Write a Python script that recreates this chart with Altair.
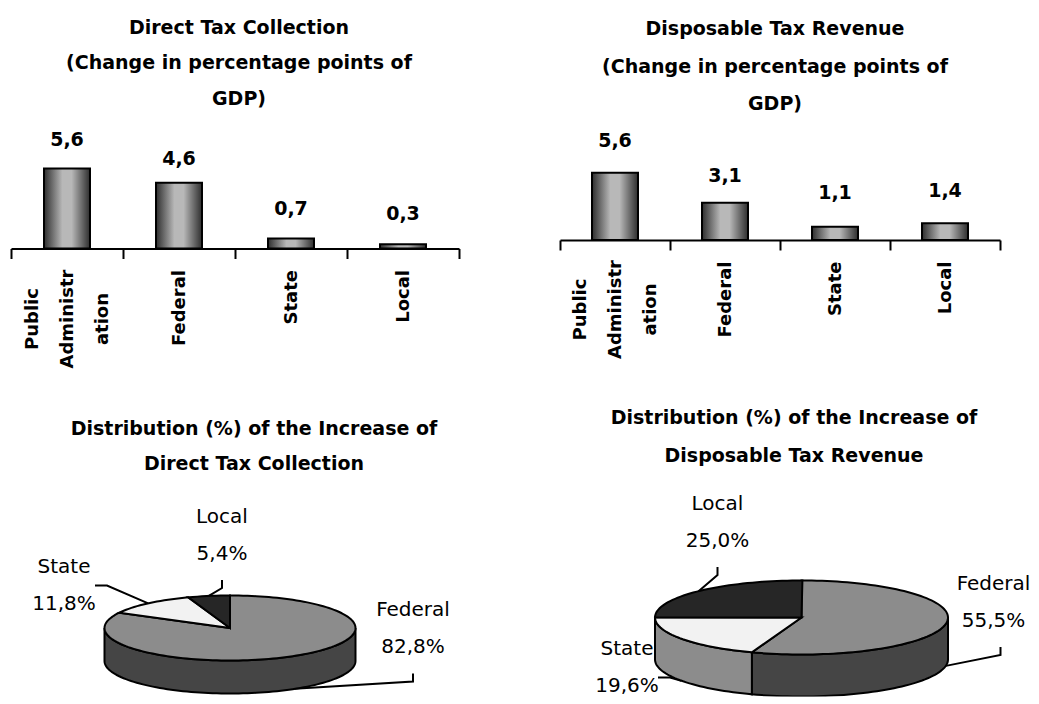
import math
import altair as alt
import pandas as pd

FONT = "DejaVu Sans"

# ---- data ----
bar_categories = ["Public Administration", "Federal", "State", "Local"]
direct_change = [5.6, 4.6, 0.7, 0.3]
disposable_change = [5.6, 3.1, 1.1, 1.4]
direct_labels = ["5,6", "4,6", "0,7", "0,3"]
disposable_labels = ["5,6", "3,1", "1,1", "1,4"]

pie_names = ["Federal", "State", "Local"]
direct_share = [82.8, 11.8, 5.4]
disposable_share = [55.5, 19.6, 25.0]
direct_share_labels = ["82,8%", "11,8%", "5,4%"]
disposable_share_labels = ["55,5%", "19,6%", "25,0%"]

top_fill = ["#8c8c8c", "#f2f2f2", "#262626"]
side_fill = ["#454545", "#8c8c8c", "#262626"]

BAR_GRADIENT = alt.Gradient(
    gradient="linear", x1=0, x2=1, y1=0, y2=0,
    stops=[
        alt.GradientStop(offset=0, color="#2e2e2e"),
        alt.GradientStop(offset=0.4, color="#b8b8b8"),
        alt.GradientStop(offset=0.6, color="#b8b8b8"),
        alt.GradientStop(offset=1, color="#2e2e2e"),
    ],
)

ROW1_TOP, ROW2_TOP = 120, 480
LEFT_SHIFT = 6
ROW2_H = 216
RIGHT_W = 471


def title(lines, dx, offset, line_height):
    return alt.TitleParams(
        text=lines, anchor="middle", frame="group", dx=dx, offset=offset,
        lineHeight=line_height, font=FONT, fontSize=19, fontWeight="bold", color="black",
    )


def bar_panel(values, labels, lifts, x_range, width, height, ymax, multi_y, ttl):
    df = pd.DataFrame({"cat": bar_categories, "v": values, "lab": labels})
    scale = alt.Scale(paddingInner=0, paddingOuter=0, range=x_range)
    x = alt.X(
        "cat:N", sort=bar_categories, title=None, scale=scale,
        axis=alt.Axis(
            labelAngle=270, labelAlign="right", labelBaseline="middle",
            labelFont=FONT, labelFontSize=18, labelFontWeight="bold", labelColor="black",
            labelPadding=11, tickBand="extent", tickSize=10, tickWidth=2, tickColor="black",
            domainWidth=2, domainColor="black", grid=False, labelOverlap=False,
            labelExpr="datum.label == 'Public Administration' ? '' : datum.label",
        ),
    )
    y = alt.Y("v:Q", axis=None, scale=alt.Scale(domain=[0, ymax]))
    bars = alt.Chart(df).mark_bar(size=46, color=BAR_GRADIENT, stroke="black", strokeWidth=2).encode(x=x, y=y)
    layers = [bars]
    for i, lift in enumerate(lifts):
        layers.append(
            alt.Chart(df.iloc[[i]]).mark_text(
                font=FONT, fontSize=19, fontWeight="bold", color="black",
                baseline="alphabetic", dy=-lift,
            ).encode(x=alt.X("cat:N", sort=bar_categories), y=alt.Y("v:Q"), text="lab:N")
        )
    multi = pd.DataFrame({"cat": [bar_categories[0]], "txt": ["Public\nAdministr\nation"]})
    layers.append(
        alt.Chart(multi).mark_text(
            font=FONT, fontSize=18, fontWeight="bold", color="black", angle=270,
            align="center", baseline="middle", lineBreak="\n", lineHeight=35, dy=-34,
        ).encode(x=alt.X("cat:N", sort=bar_categories), y=alt.value(multi_y), text="txt:N")
    )
    return alt.layer(*layers).properties(width=width, height=height, title=ttl)


def pie_panel(shares, share_labels, ox, oy, cx, cy, rx, ry, depth, label_pos, width, height, ttl):
    """Tilted pie built from the share values; ox/oy is the panel origin on the page."""
    def pt(t_deg, drop=0.0):
        t = math.radians(t_deg)
        return [cx - ox + rx * math.sin(t), cy - oy - ry * math.cos(t) + drop]

    def arc(a, b, drop=0.0):
        n = max(2, int(abs(b - a) / 2) + 1)
        return [pt(a + (b - a) * k / (n - 1), drop) for k in range(n)]

    tops, sides, lines, texts = [], [], [], []
    start = 0.0
    for i, share in enumerate(shares):
        end = start + share * 3.6
        apex = [cx - ox, cy - oy]
        tops.append({"type": "Feature", "properties": {"fill": top_fill[i]},
                     "geometry": {"type": "Polygon", "coordinates": [[apex] + arc(start, end) + [apex]]}})
        a, b = max(start, 90.0), min(end, 270.0)
        if a < b:
            ring = arc(a, b) + arc(b, a, depth)
            ring.append(ring[0])
            sides.append({"type": "Feature", "properties": {"fill": side_fill[i]},
                          "geometry": {"type": "Polygon", "coordinates": [ring]}})
        mid = (start + end) / 2
        anchor = pt(mid, depth if 90 <= mid <= 270 else 0.0)
        lx, ly, kind, lead = label_pos[i]
        lx, ly = lx - ox, ly - oy
        if kind == "over":
            path = [[lx + lead, ly + 45], [lx + lead, ly + 53], anchor]
        else:
            path = [[lx + 31, ly + lead], [lx + 43, ly + lead], anchor]
        lines.append({"type": "Feature", "properties": {},
                      "geometry": {"type": "LineString", "coordinates": path}})
        texts.append({"lon": lx, "lat": ly - 18.5, "txt": pie_names[i] + "\n" + share_labels[i]})
        start = end

    proj = dict(type="identity", scale=1, translate=[0, 0])
    fill = alt.Color("properties.fill:N", scale=None, legend=None)
    line_layer = alt.Chart(alt.Data(values=lines)).mark_geoshape(
        filled=False, stroke="black", strokeWidth=2).project(**proj)
    side_layer = alt.Chart(alt.Data(values=sides)).mark_geoshape(
        stroke="black", strokeWidth=2).encode(color=fill).project(**proj)
    top_layer = alt.Chart(alt.Data(values=tops)).mark_geoshape(
        stroke="black", strokeWidth=2).encode(color=fill).project(**proj)
    text_layer = alt.Chart(pd.DataFrame(texts)).mark_text(
        font=FONT, fontSize=20, color="black", lineBreak="\n", lineHeight=37,
        align="center", baseline="middle",
    ).encode(longitude="lon:Q", latitude="lat:Q", text="txt:N").project(**proj)
    return alt.layer(line_layer, side_layer, top_layer, text_layer).properties(
        width=width, height=height, title=ttl)


a = bar_panel(direct_change, direct_labels, [23, 18, 24, 24], [-LEFT_SHIFT, 448 - LEFT_SHIFT], 448, 128.5,
              128.5 / 14.5, 319 - ROW1_TOP,
              title(["Direct Tax Collection", "(Change in percentage points of", "GDP)"], -2, 11.5, 35.5))
b = bar_panel(disposable_change, disposable_labels, [26, 21, 28, 26], [0, 440], RIGHT_W, 120,
              120 / 13.2, 309.5 - ROW1_TOP,
              title(["Disposable Tax Revenue", "(Change in percentage points of", "GDP)"], -20.5, 6, 37.5))
c = pie_panel(direct_share, direct_share_labels, 17, ROW2_TOP, 230, 627.5, 125.5, 32.5, 33,
              [(413, 628, "over", 0), (64, 585, "side", 0), (222, 534.5, "over", 0)], 448, ROW2_H,
              title(["Distribution (%) of the Increase of", "Direct Tax Collection"], 13, 6.5, 35))
d = pie_panel(disposable_share, disposable_share_labels, 560, ROW2_TOP, 801.5, 617, 146.5, 37, 42,
              [(993.5, 601.5, "over", 7), (627, 667, "side", 10), (717.5, 521.5, "over", 0)], RIGHT_W, ROW2_H,
              title(["Distribution (%) of the Increase of", "Disposable Tax Revenue"], -1.5, 14.5, 38))

chart = (
    alt.concat(a, b, c, d, columns=2, spacing=alt.RowColnumber(row=231.5, column=95), bounds="flush")
    .properties(padding={"left": 0, "top": 10, "right": 0, "bottom": 0})
    .configure_view(strokeWidth=0)
)
chart.save("out.html", embed_options={"renderer": "svg", "actions": False})
